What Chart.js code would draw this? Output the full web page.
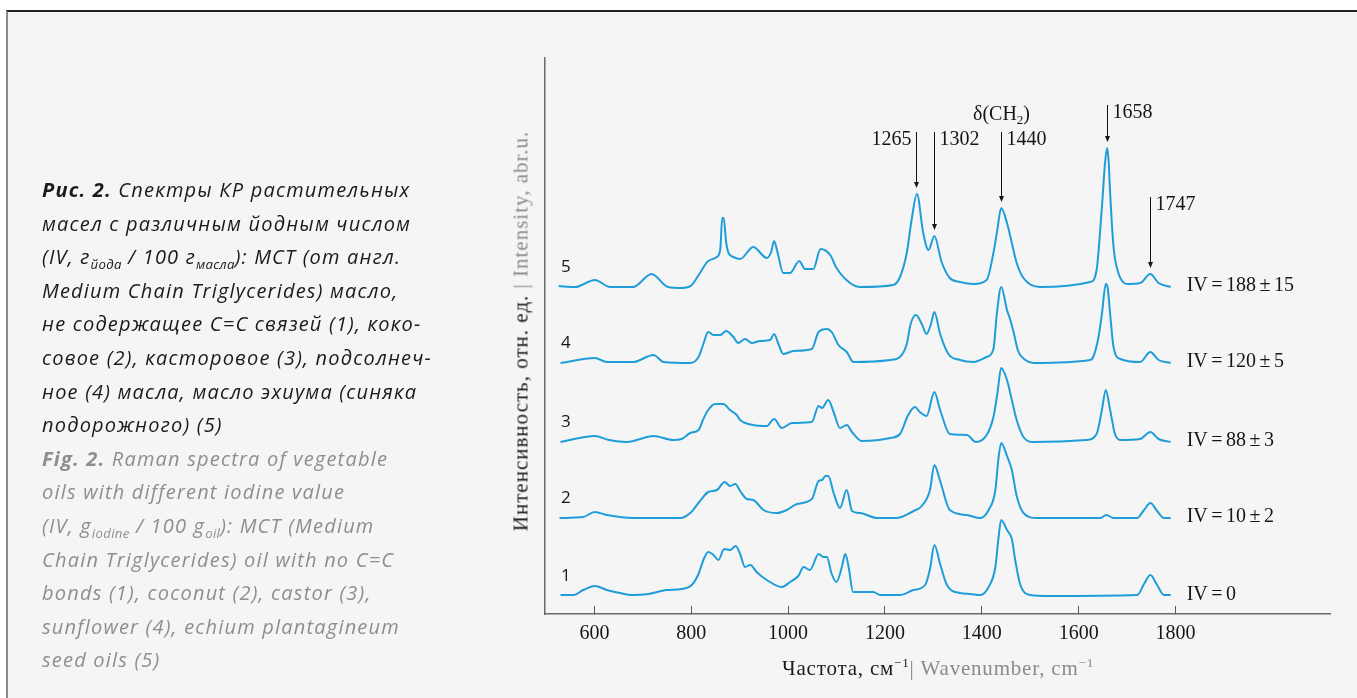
<!DOCTYPE html>
<html><head><meta charset="utf-8">
<script src="https://cdn.jsdelivr.net/npm/chart.js@4.4.1/dist/chart.umd.min.js"></script>
<style>
html,body{margin:0;padding:0;background:#fff;}
body{width:1357px;height:698px;position:relative;overflow:hidden;}
#frame{position:absolute;left:6px;top:10px;width:1351px;height:688px;background:#f5f5f5;border-top:2px solid #222;border-left:2px solid #8a8a8a;}
#cv{position:absolute;left:0;top:0;}
#caption{position:absolute;left:42px;top:173px;font-family:'Open Sans',sans-serif;font-style:italic;font-size:20px;line-height:33.6px;color:#1a1a1a;white-space:nowrap;letter-spacing:1.2px;}
#caption .en{color:#8e8e8e;}
#caption sub{font-size:0.66em;vertical-align:-0.35em;line-height:0;letter-spacing:0.3px;}
.ttl{position:absolute;font-family:'Liberation Serif',serif;font-size:21px;color:#1a1a1a;white-space:nowrap;letter-spacing:0.8px;}
.ttl .en{color:#8a8a8a;}
.ttl sup{font-size:0.62em;vertical-align:0.6em;line-height:0;}
#xt{left:938px;top:668px;transform:translate(-50%,-50%);}
#yt{left:521px;top:331px;transform:translate(-50%,-50%) rotate(-90deg);letter-spacing:1px;}
</style></head>
<body>
<div id="frame"></div>
<canvas id="cv" width="1357" height="698"></canvas>
<div id="caption"><b>Рис. 2.</b> Спектры КР растительных<br>масел с различным йодным числом<br>(IV, г<sub>йода</sub> / 100 г<sub>масла</sub>): MCT (от англ.<br>Medium Chain Triglycerides) масло,<br>не содержащее С=С связей (1), коко-<br>совое (2), касторовое (3), подсолнеч-<br>ное (4) масла, масло эхиума (синяка<br>подорожного) (5)<br><span class="en"><b>Fig. 2.</b> Raman spectra of vegetable<br>oils with different iodine value<br>(IV, g<sub>iodine</sub> / 100 g<sub>oil</sub>): MCT (Medium<br>Chain Triglycerides) oil with no C=C<br>bonds (1), coconut (2), castor (3),<br>sunflower (4), echium plantagineum<br>seed oils (5)</span></div>
<div class="ttl" id="xt">Частота, см<sup>−1</sup><span class="en">| Wavenumber, cm<sup>−1</sup></span></div>
<div class="ttl" id="yt">Интенсивность, отн. ед. <span class="en">| Intensity, abr.u.</span></div>
<script>
// ---- data (intensity in a.u., each spectrum relative to its own baseline) ----
const wn1 = [530,557,577,601,626,653,677,712,749,780,801,815,825,835,846,856,868,880,892,901,911,922,935,956,987,1004,1021,1032,1045,1063,1073,1080,1090,1100,1111,1118,1125,1134,1176,1190,1231,1259,1283,1293,1302,1314,1328,1355,1376,1397,1414,1428,1434,1440,1452,1462,1469,1479,1500,1540,1721,1735,1748,1762,1776,1790];
const int1 = [1,1,6,10,6,3,1,2,6,7,11,22,36,44,41,36,47,46,50,42,29,31,24,16,9,14,20,29,26,42,39,39,22,14,29,42,29,4,4,1,1,6,11,27,51,32,11,3,2,1,9,29,56,76,66,57,36,12,1,0,1,12,21,11,1,1];
const wn2 = [528,577,601,626,680,777,798,818,835,853,869,880,891,901,915,928,949,977,997,1018,1049,1063,1070,1077,1083,1094,1107,1121,1132,1149,1184,1225,1259,1276,1293,1302,1314,1334,1369,1397,1414,1428,1434,1440,1452,1462,1472,1486,1514,1645,1657,1672,1721,1735,1748,1762,1776,1790];
const int2 = [0,1,6,3,0,0,5,17,26,28,36,32,34,27,19,18,8,5,8,14,19,37,38,42,42,25,10,28,7,5,0,0,7,12,28,53,37,8,3,0,8,28,58,75,62,48,22,5,0,0,3,0,0,8,15,7,0,0];
const wn3 = [530,601,630,667,722,763,780,798,815,825,835,849,866,880,894,901,928,956,971,987,1008,1049,1063,1070,1083,1094,1107,1121,1132,1152,1211,1231,1248,1262,1272,1286,1302,1314,1334,1369,1388,1410,1424,1432,1440,1452,1462,1472,1486,1507,1616,1637,1648,1656,1665,1675,1686,1727,1748,1765,1790];
const int3 = [0,6,2,0,6,2,3,9,12,23,32,38,38,32,27,22,17,16,23,14,19,20,36,34,42,30,14,17,10,1,4,8,27,35,30,26,50,32,8,7,0,7,25,48,74,62,42,22,5,0,2,8,32,52,32,8,2,3,10,3,0];
const wn4 = [530,601,626,680,722,743,798,815,825,835,846,860,872,887,897,911,925,942,963,971,980,990,1011,1049,1063,1080,1090,1104,1121,1135,1211,1231,1245,1253,1264,1276,1286,1295,1302,1314,1331,1355,1383,1410,1424,1431,1440,1452,1459,1466,1475,1490,1507,1624,1630,1641,1648,1656,1660,1665,1672,1686,1727,1748,1765,1790];
const int4 = [0,5,1,1,8,1,0,6,19,31,28,28,32,26,20,24,20,22,23,29,19,9,12,14,31,34,31,18,11,1,3,6,19,39,48,39,29,39,51,29,9,3,1,6,14,49,76,53,43,30,12,3,0,3,6,26,49,79,75,49,16,4,1,11,3,0];
const wn5 = [526,560,601,632,680,718,752,780,801,818,835,853,860,864,867,872,877,887,901,928,956,965,971,978,990,1004,1023,1035,1052,1067,1087,1100,1128,1149,1217,1231,1245,1255,1266,1279,1290,1302,1317,1334,1355,1383,1410,1424,1432,1440,1452,1462,1472,1486,1520,1624,1637,1648,1655,1659,1662,1665,1672,1682,1700,1727,1748,1765,1790];
const int5 = [1,0,7,0,0,13,0,-1,2,14,26,30,38,69,69,45,34,30,28,40,29,35,46,35,14,14,26,18,18,38,32,19,4,0,2,10,34,67,93,54,37,51,25,9,5,3,7,34,57,79,64,44,24,9,0,5,17,80,127,139,125,94,40,14,3,4,13,4,0];
const offsets = [18, 96, 172, 251, 327];          // vertical stacking of spectra 1..5
const traceNumbers = ['1','2','3','4','5'];
const ivLabels = ['IV = 0','IV = 10 ± 2','IV = 88 ± 3','IV = 120 ± 5','IV = 188 ± 15'];
const peakWn = [1265, 1302, 1440, 1658, 1747];
const peakLabels = ['1265','1302','1440','1658','1747'];
const tickValues = [600, 800, 1000, 1200, 1400, 1600, 1800];

// ---- build datasets ----
const wns = [wn1, wn2, wn3, wn4, wn5];
const ints = [int1, int2, int3, int4, int5];
const LINE = '#1f9dd9';
const datasets = wns.map((w, i) => ({
  label: traceNumbers[i],
  data: w.map((v, j) => ({x: v, y: ints[i][j] + offsets[i]})),
  showLine: true, borderColor: LINE, borderWidth: 2, pointRadius: 0,
  cubicInterpolationMode: 'monotone', fill: false
}));

const annot = {
  arrowTop: [482, 482, 482, 509, 417],   // y (a.u.) where each arrow starts
  labelSide: ['left', 'right', 'right', 'right', 'right']
};

const decor = {
  id: 'decor',
  afterDatasetsDraw(chart) {
    const {ctx, scales: {x, y}} = chart;
    ctx.save();
    ctx.fillStyle = '#151515';
    // spectrum numbers
    ctx.font = '17px "Open Sans"';
    ctx.textAlign = 'center'; ctx.textBaseline = 'middle';
    traceNumbers.forEach((t, i) => ctx.fillText(t, x.getPixelForValue(541), y.getPixelForValue(offsets[i] + 20)));
    // IV labels
    ctx.font = '20px "Liberation Serif"';
    ctx.textAlign = 'left';
    if ('wordSpacing' in ctx) ctx.wordSpacing = '-1.5px';
    ivLabels.forEach((t, i) => ctx.fillText(t, x.getPixelForValue(1823), y.getPixelForValue(offsets[i] + 1)));
    if ('wordSpacing' in ctx) ctx.wordSpacing = '0px';
    // peak arrows (tip placed just above the peak of spectrum 5)
    ctx.strokeStyle = '#111'; ctx.lineWidth = 1;
    peakWn.forEach((w, k) => {
      let m = -Infinity;
      wn5.forEach((v, j) => { if (Math.abs(v - w) <= 10) m = Math.max(m, int5[j]); });
      const px = Math.round(x.getPixelForValue(w)) + 0.5;
      const tip = y.getPixelForValue(offsets[4] + m + 6);
      const top = y.getPixelForValue(annot.arrowTop[k]);
      ctx.beginPath(); ctx.moveTo(px, top); ctx.lineTo(px, tip - 5); ctx.stroke();
      ctx.beginPath(); ctx.moveTo(px - 2.5, tip - 6); ctx.lineTo(px + 2.5, tip - 6); ctx.lineTo(px, tip); ctx.closePath(); ctx.fill();
      ctx.font = '20px "Liberation Serif"';
      ctx.textBaseline = 'middle';
      if (annot.labelSide[k] === 'left') { ctx.textAlign = 'right'; ctx.fillText(peakLabels[k], px - 5, top + 7.5); }
      else { ctx.textAlign = 'left'; ctx.fillText(peakLabels[k], px + 5, top + 7.5); }
      if (w === 1440) {
        // δ(CH2) label above the 1440 arrow
        const cy = top - 17;
        ctx.font = '20px "Liberation Serif"';
        const a = 'δ(CH', b = '2', c = ')';
        const wa = ctx.measureText(a).width, wc = ctx.measureText(c).width;
        ctx.font = '13px "Liberation Serif"';
        const wb = ctx.measureText(b).width;
        let sx = px - (wa + wb + wc) / 2;
        ctx.textAlign = 'left';
        ctx.font = '20px "Liberation Serif"'; ctx.fillText(a, sx, cy);
        ctx.font = '13px "Liberation Serif"'; ctx.fillText(b, sx + wa, cy + 6);
        ctx.font = '20px "Liberation Serif"'; ctx.fillText(c, sx + wa + wb, cy);
      }
    });
    ctx.restore();
  }
};

new Chart(document.getElementById('cv'), {
  type: 'scatter',
  data: {datasets},
  options: {
    responsive: false, animation: false, devicePixelRatio: 1,
    layout: {padding: {left: 545, top: 58, right: 27, bottom: 0}},
    plugins: {legend: {display: false}, tooltip: {enabled: false}},
    scales: {
      x: {
        type: 'linear', min: 498, max: 2119,
        afterBuildTicks: s => { s.ticks = tickValues.map(v => ({value: v})); },
        afterFit: s => { s.height = 84; },
        grid: {display: true, drawOnChartArea: false, drawTicks: true, tickLength: -8, color: '#555', tickColor: '#555', lineWidth: 1},
        border: {display: true, color: '#6a6a6a', width: 1.5},
        ticks: {color: '#151515', padding: 16, font: {family: 'Liberation Serif', size: 20}, maxRotation: 0, autoSkip: false,
                callback: v => String(v)}
      },
      y: {
        type: 'linear', min: 0, max: 556,
        afterFit: s => { s.width = 0; },
        grid: {display: false},
        border: {display: true, color: '#6a6a6a', width: 1.5},
        ticks: {display: false}
      }
    }
  },
  plugins: [decor]
});
</script>
</body></html>
